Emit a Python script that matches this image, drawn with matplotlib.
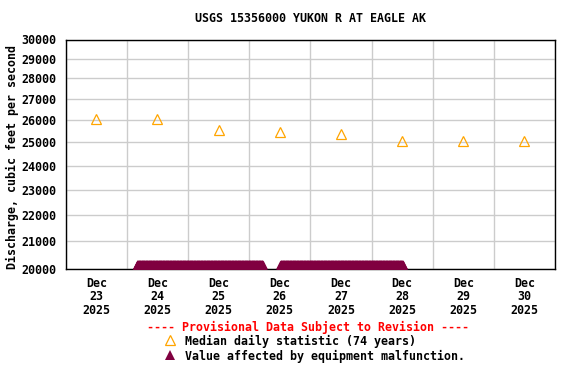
import numpy as np
import pandas as pd
import matplotlib
matplotlib.use("Agg")
import matplotlib.pyplot as plt
import matplotlib.dates as mdates
from matplotlib.lines import Line2D
from matplotlib.path import Path
from matplotlib.ticker import NullLocator

title = "USGS 15356000 YUKON R AT EAGLE AK"
ylabel = "Discharge, cubic feet per second"

median_dates = ["2025-12-23 12:00", "2025-12-24 12:00", "2025-12-25 12:00", "2025-12-26 12:00",
                "2025-12-27 12:00", "2025-12-28 12:00", "2025-12-29 12:00", "2025-12-30 12:00"]
median_values = [26050, 26050, 25550, 25460, 25370, 25060, 25060, 25060]

# periods where the value was affected by equipment malfunction (plotted at axis floor)
malf_starts = ["2025-12-24 04:00", "2025-12-26 12:15"]
malf_ends = ["2025-12-26 05:15", "2025-12-28 12:15"]
malf_level = 20000

y_ticks = [20000, 21000, 22000, 23000, 24000, 25000, 26000, 27000, 28000, 29000, 30000]
x_start, x_end = "2025-12-23", "2025-12-31"

FONT = "DejaVu Sans Mono"
FS = 8.4
ORANGE = "#FFA500"
MAROON = "#800040"

fig = plt.figure(figsize=(5.76, 3.84), dpi=100)
ax = fig.add_axes([65.7 / 576, 1 - 268.5 / 384, (555 - 65.7) / 576, (268.5 - 39.5) / 384])

# malfunction markers: triangles whose base sits on the data point
tri_up = Path([(-1, 0), (1, 0), (0, 2), (-1, 0)], [Path.MOVETO, Path.LINETO, Path.LINETO, Path.CLOSEPOLY])
for s, e in zip(malf_starts, malf_ends):
    t = pd.date_range(s, e, freq="5min")
    ax.plot(t, np.full(len(t), malf_level), linestyle="none", marker=tri_up,
            markersize=13, color=MAROON, markeredgewidth=0, zorder=3)

ax.plot(pd.to_datetime(median_dates), median_values, linestyle="none", marker="^",
        markersize=7, markerfacecolor="none", markeredgecolor=ORANGE, markeredgewidth=0.9, zorder=4)

ax.set_yscale("log")
ax.set_ylim(y_ticks[0], y_ticks[-1])
ax.set_yticks(y_ticks, [str(v) for v in y_ticks])
ax.yaxis.set_minor_locator(NullLocator())
ax.set_xlim(pd.Timestamp(x_start), pd.Timestamp(x_end))

ax.xaxis.set_major_locator(mdates.DayLocator())
ax.xaxis.set_major_formatter(plt.NullFormatter())
ax.xaxis.set_minor_locator(mdates.HourLocator(byhour=[12]))
ax.xaxis.set_minor_formatter(mdates.DateFormatter("%b\n%d\n%Y"))
ax.tick_params(axis="x", which="both", length=0)
ax.tick_params(axis="x", which="minor", pad=6)
ax.tick_params(axis="y", which="both", length=0, pad=6.5)

ax.grid(True, which="major", color="#cccccc", linewidth=1)
ax.set_axisbelow(True)
for sp in ax.spines.values():
    sp.set_linewidth(1)
    sp.set_color("black")

for lab in ax.get_yticklabels():
    lab.set_fontfamily(FONT)
    lab.set_fontweight("bold")
    lab.set_fontsize(FS)
for lab in ax.get_xticklabels(minor=True):
    lab.set_fontfamily(FONT)
    lab.set_fontweight("bold")
    lab.set_fontsize(FS)
    lab.set_linespacing(1.05)

fig.text(0.5 * (65.7 + 555) / 576, 1 - 19 / 384, title, ha="center", va="center",
         fontfamily=FONT, fontweight="bold", fontsize=FS)
fig.text(12 / 576, 1 - 157 / 384, ylabel, rotation=90, ha="center", va="center",
         fontfamily=FONT, fontweight="bold", fontsize=FS)

fig.text(308 / 576, 1 - 327 / 384, "---- Provisional Data Subject to Revision ----",
         ha="center", va="center", color="red", fontfamily=FONT, fontweight="bold", fontsize=FS)
fig.text(185 / 576, 1 - 341 / 384, "Median daily statistic (74 years)", ha="left", va="center",
         fontfamily=FONT, fontweight="bold", fontsize=FS)
fig.text(185 / 576, 1 - 356 / 384, "Value affected by equipment malfunction.", ha="left", va="center",
         fontfamily=FONT, fontweight="bold", fontsize=FS)
fig.add_artist(Line2D([170 / 576], [1 - 340 / 384], transform=fig.transFigure, linestyle="none",
                      marker="^", markersize=7, markerfacecolor="none", markeredgecolor=ORANGE,
                      markeredgewidth=0.9))
fig.add_artist(Line2D([170 / 576], [1 - 355 / 384], transform=fig.transFigure, linestyle="none",
                      marker="^", markersize=7.5, color=MAROON, markeredgewidth=0))

fig.savefig("out.png", dpi=100)
